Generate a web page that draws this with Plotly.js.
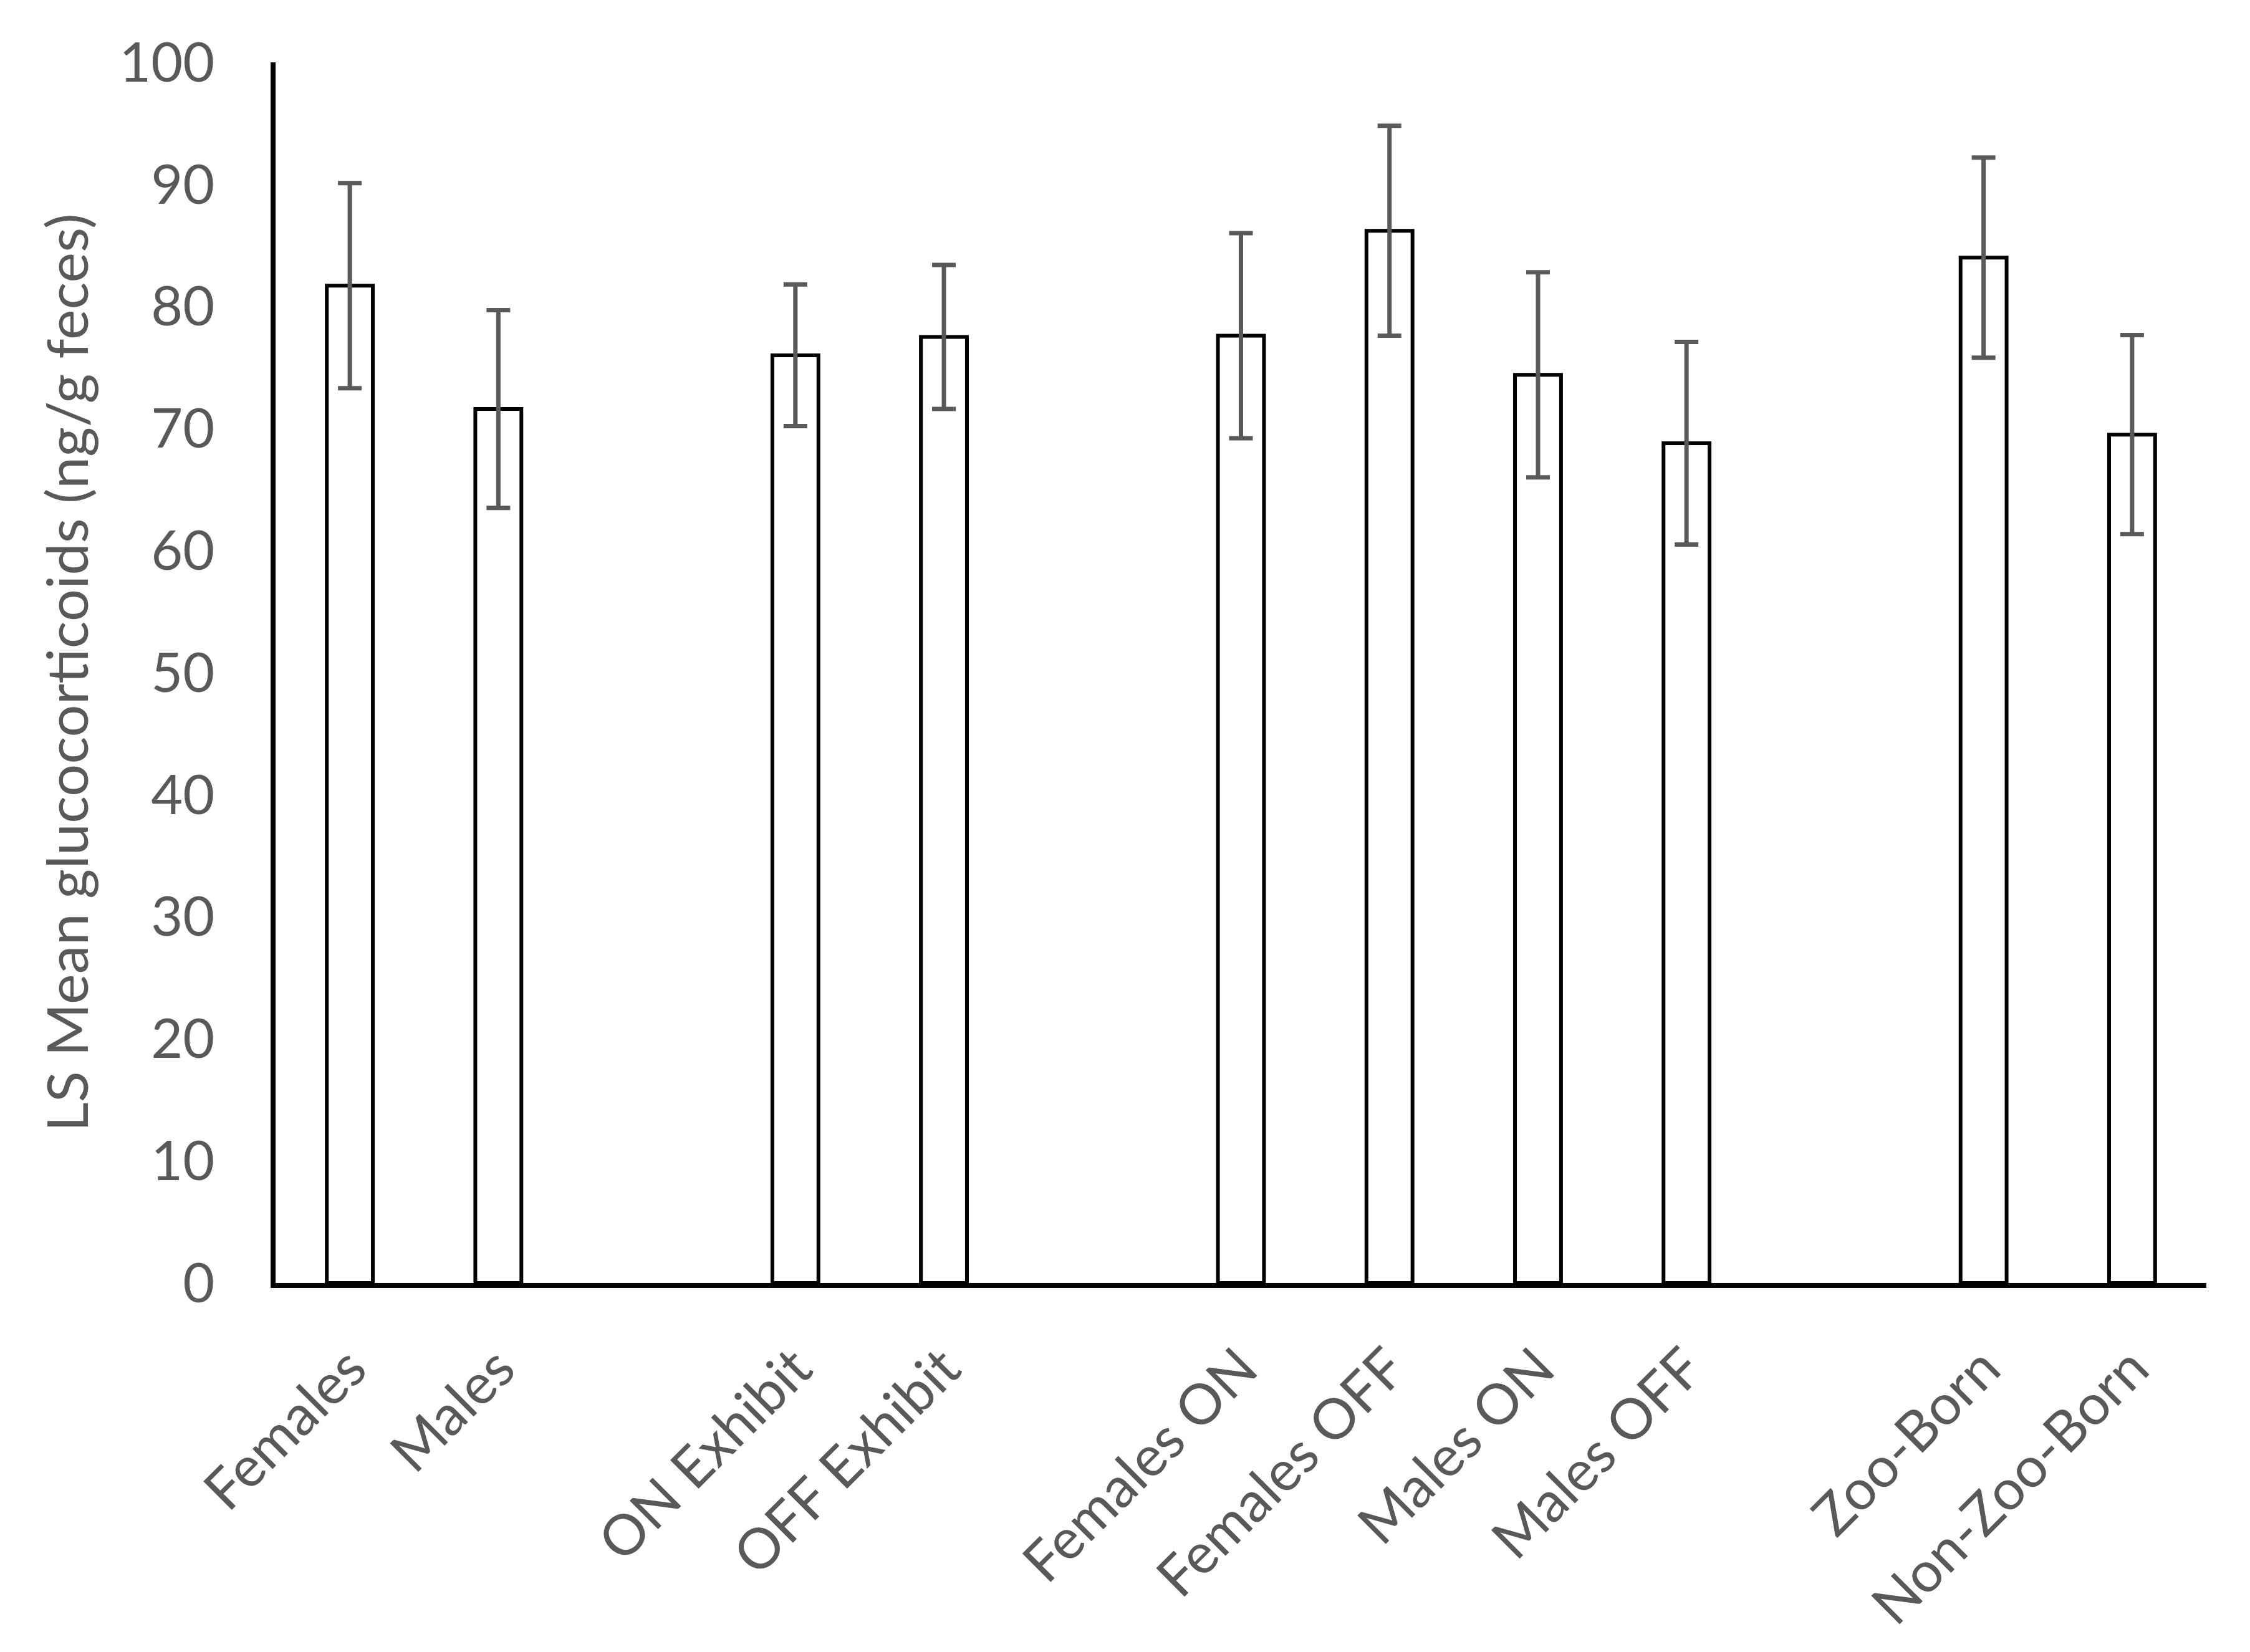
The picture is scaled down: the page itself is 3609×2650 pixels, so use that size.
<!DOCTYPE html>
<html>
<head>
<meta charset="utf-8">
<script src="https://cdn.plot.ly/plotly-3.0.1.min.js"></script>
<style>
  html, body { margin: 0; padding: 0; background: #ffffff; }
  #chart { width: 3609px; height: 2650px; }
</style>
</head>
<body>
<div id="chart"></div>
<script>
// Bar labels, in drawing order (blank slots separate the groups)
const categories = [
  "Females", "Males", " ",
  "ON Exhibit", "OFF Exhibit", "  ",
  "Females ON", "Females OFF", "Males ON", "Males OFF", "   ",
  "Zoo-Born", "Non-Zoo-Born"
];

// LS means (ng/g feces)
const barLabels = [
  "Females", "Males",
  "ON Exhibit", "OFF Exhibit",
  "Females ON", "Females OFF", "Males ON", "Males OFF",
  "Zoo-Born", "Non-Zoo-Born"
];
const means = [81.7, 71.6, 76.0, 77.5, 77.6, 86.2, 74.4, 68.8, 84.0, 69.5];
const errors = [8.4, 8.1, 5.8, 5.9, 8.4, 8.6, 8.4, 8.3, 8.2, 8.15];

const yTicks = [0, 10, 20, 30, 40, 50, 60, 70, 80, 90, 100];

const textGrey = "#595959";
const font = { family: "Lato, 'Open Sans', sans-serif", size: 88, color: textGrey };

const trace = {
  type: "bar",
  x: barLabels,
  y: means,
  width: 0.31,
  marker: {
    color: "#ffffff",
    line: { color: "#000000", width: 6 }
  },
  error_y: {
    type: "data",
    array: errors,
    visible: true,
    color: textGrey,
    thickness: 7,
    width: 19
  },
  hoverinfo: "x+y"
};

const layout = {
  width: 3609,
  height: 2650,
  paper_bgcolor: "#ffffff",
  plot_bgcolor: "#ffffff",
  showlegend: false,
  font: font,
  margin: { l: 442, r: 70, t: 100, b: 592 },
  xaxis: {
    type: "category",
    categoryorder: "array",
    categoryarray: categories,
    range: [-0.5, categories.length - 0.5],
    showline: true,
    linecolor: "#000000",
    linewidth: 8,
    ticks: "",
    tickangle: -45,
    ticklabelstandoff: 40,
    tickfont: { ...font, size: 90 },
    showgrid: false,
    zeroline: false,
    fixedrange: true
  },
  yaxis: {
    range: [0, 100],
    tickvals: yTicks,
    showline: true,
    linecolor: "#000000",
    linewidth: 8,
    ticks: "",
    ticklabelstandoff: 72,
    tickfont: font,
    showgrid: false,
    zeroline: false,
    fixedrange: true,
    title: {
      text: "LS Mean glucocorticoids (ng/g feces)",
      font: { ...font, size: 92 },
      standoff: 22
    }
  }
};

Plotly.newPlot("chart", [trace], layout, { displayModeBar: false, staticPlot: true });
</script>
</body>
</html>
